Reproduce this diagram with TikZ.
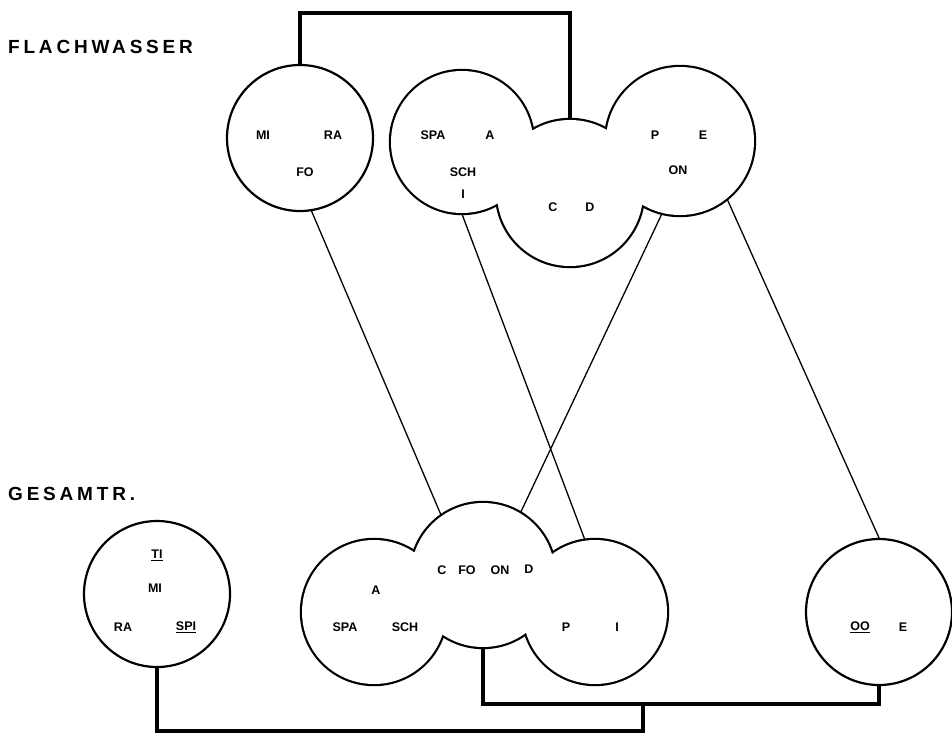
\documentclass[tikz,border=0pt]{standalone}
\usepackage{fontspec}
\setmainfont{Liberation Sans}
\newfontfamily\ttlfont[LetterSpace=20]{Liberation Sans}
\begin{document}
\begin{tikzpicture}[x=1pt,y=-1pt,
  lbl/.style={font=\fontsize{12.5}{13}\selectfont\bfseries, inner sep=0pt},
  ttl/.style={font=\ttlfont\fontsize{19}{19}\selectfont\bfseries, anchor=west, inner sep=0pt},
  ringc/.style={circle, draw, line width=2.2pt, minimum size=146pt, inner sep=0pt},
  lobe/.style={circle, draw=none, minimum size=#1, inner sep=0pt, outer sep=1.1pt},
  thinline/.style={line width=1.3pt},
  bus/.style={line width=3.3pt, line join=miter}]
\useasboundingbox (0,0) rectangle (952,732);

% titles
\node[ttl] (t1) at (8,47) {FLACHWASSER};
\node[ttl] (t2) at (8,494) {GESAMTR.};

% single circles
\node[ringc] (tlc) at (300,138) {};
\node[ringc] (blc) at (157,594) {};
\node[ringc] (rc) at (879,612) {};

% lobes of top cluster
\node[lobe=142pt] (fa) at (462,142) {};
\node[lobe=146pt] (fb) at (570,193) {};
\node[lobe=148pt] (fc) at (680,141) {};
% lobes of bottom cluster
\node[lobe=144pt] (ga) at (374,612) {};
\node[lobe=144pt] (gb) at (483,575) {};
\node[lobe=144pt] (gc) at (595,612) {};

% union outlines
\path[draw, line width=4.4pt] (fa.center) circle[radius=71] (fb.center) circle[radius=73] (fc.center) circle[radius=74];
\fill[white] (fa.center) circle[radius=71] (fb.center) circle[radius=73] (fc.center) circle[radius=74];
\path[draw, line width=4.4pt] (ga.center) circle[radius=72] (gb.center) circle[radius=72] (gc.center) circle[radius=72];
\fill[white] (ga.center) circle[radius=72] (gb.center) circle[radius=72] (gc.center) circle[radius=72];

% texts top
\node[lbl] (m1) at (263,135) {MI};
\node[lbl] (r1) at (333,135) {RA};
\node[lbl] (f1) at (305,172) {FO};
\node[lbl] (s1) at (433,135) {SPA};
\node[lbl] (a1) at (490,135) {A};
\node[lbl] (sc1) at (463,172) {SCH};
\node[lbl] (i1) at (463,194) {I};
\node[lbl] (c1) at (553,207) {C};
\node[lbl] (d1) at (590,207) {D};
\node[lbl] (p1) at (655,135) {P};
\node[lbl] (e1) at (703,135) {E};
\node[lbl] (o1) at (678,170) {ON};

% texts bottom
\node[lbl] (ti2) at (157,555) {\underline{TI}};
\node[lbl] (m2) at (155,588) {MI};
\node[lbl] (r2) at (123,627) {RA};
\node[lbl] (sp2) at (186,627) {\underline{SPI}};
\node[lbl] (a2) at (376,590) {A};
\node[lbl] (s2) at (345,627) {SPA};
\node[lbl] (sc2) at (405,627) {SCH};
\node[lbl] (c2) at (442,570) {C};
\node[lbl] (f2) at (467,570) {FO};
\node[lbl] (o2) at (500,570) {ON};
\node[lbl] (d2) at (529,569) {D};
\node[lbl] (p2) at (566,627) {P};
\node[lbl] (i2) at (617,627) {I};
\node[lbl] (oo) at (860,627) {\underline{OO}};
\node[lbl] (e2) at (903,627) {E};

% thin connectors
\draw[thinline] (tlc.-81) -- (gb.125);
\draw[thinline] (fa.-90) -- (gc.98);
\draw[thinline] (fc.-104) -- (gb.59);
\draw[thinline] (fc.-51) -- (rc.90);

% heavy connectors
\coordinate (topy) at (0,13);
\draw[bus] (tlc.north) -- (tlc.north |- topy) -| (fb.north);
\draw[bus] (gb.south) -- ++(0,56) -| (rc.south);
\coordinate (jn) at (643,703);
\draw[bus] (blc.south) -- ++(0,63) -| (jn);
\end{tikzpicture}
\end{document}
